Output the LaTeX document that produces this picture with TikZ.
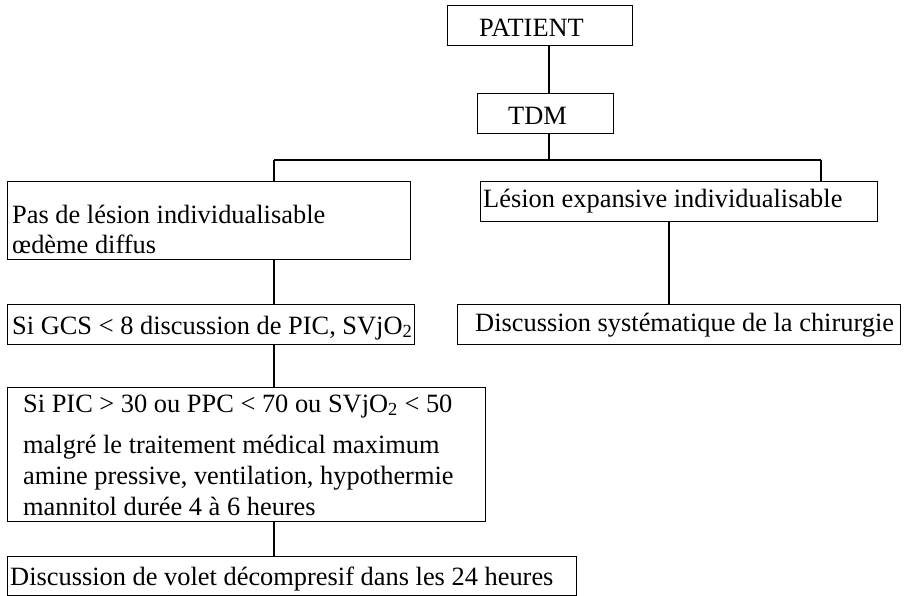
\documentclass[tikz,border=0pt]{standalone}
\usepackage{fontspec}
\setmainfont{Liberation Serif}
\begin{document}
\begin{tikzpicture}[x=1pt,y=-1pt,
  box/.style={draw, line width=1pt, inner sep=0pt, rectangle},
  txt/.style={anchor=base west, inner sep=0pt, font=\fontsize{26.4}{32}\selectfont},
  conn/.style={line width=2pt}]
\useasboundingbox (0,0) rectangle (905,596);
% boxes
\node[box, minimum width=185pt, minimum height=40pt] (patient) at (539.5,26) {};
\node[box, minimum width=136pt, minimum height=40pt] (tdm) at (545,114) {};
\node[box, minimum width=403pt, minimum height=77pt] (pas) at (208.5,220.5) {};
\node[box, minimum width=397pt, minimum height=40pt] (lesion) at (678.5,202) {};
\node[box, minimum width=407pt, minimum height=40pt] (gcs) at (210.5,324) {};
\node[box, minimum width=443pt, minimum height=40pt] (chir) at (678.5,324) {};
\node[box, minimum width=478pt, minimum height=134pt] (big) at (246,454) {};
\node[box, minimum width=569pt, minimum height=39pt] (volet) at (291.5,575.5) {};
% texts
\node[txt] (tpatient) at (479,36.7) {PATIENT};
\node[txt] (ttdm) at (508,125) {TDM};
\node[txt] (tpas1) at (12,224) {Pas de lésion individualisable};
\node[txt] (tpas2) at (12,254) {œdème diffus};
\node[txt] (tlesion) at (483,208) {Lésion expansive individualisable};
\node[txt] (tgcs) at (12,334) {Si GCS < 8 discussion de PIC, SVjO\textsubscript{2}};
\node[txt] (tchir) at (475,331) {Discussion systématique de la chirurgie};
\node[txt] (tbig1) at (23,412) {Si PIC > 30 ou PPC < 70 ou SVjO\textsubscript{2} < 50};
\node[txt] (tbig2) at (23,453) {malgré le traitement médical maximum};
\node[txt] (tbig3) at (23,484) {amine pressive, ventilation, hypothermie};
\node[txt] (tbig4) at (23,515) {mannitol durée 4 à 6 heures};
\node[txt] (tvolet) at (10,585) {Discussion de volet décompresif dans les 24 heures};
% connector coordinates
\coordinate (spine) at (549,160);
\coordinate (busL) at (274,160);
\coordinate (busR) at (821,160);
\coordinate (colR) at (669,0);
% connectors
\draw[conn] (patient.south -| spine) -- (tdm.north -| spine);
\draw[conn] (tdm.south -| spine) -- (spine);
\draw[conn] (busL) -- (busR);
\draw[conn] (busL) -- (pas.north -| busL);
\draw[conn] (busR) -- (lesion.north -| busR);
\draw[conn] (pas.south -| busL) -- (gcs.north -| busL);
\draw[conn] (lesion.south -| colR) -- (chir.north -| colR);
\draw[conn] (gcs.south -| busL) -- (big.north -| busL);
\draw[conn] (big.south -| busL) -- (volet.north -| busL);
\end{tikzpicture}
\end{document}
